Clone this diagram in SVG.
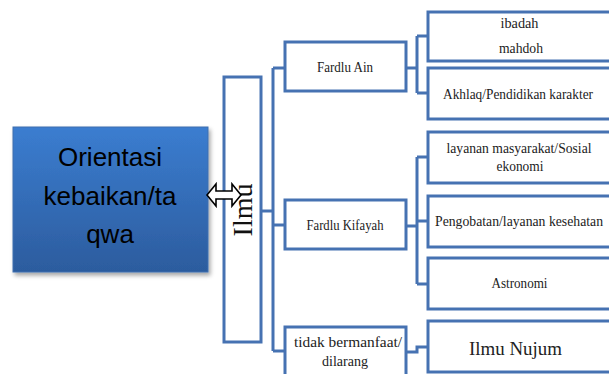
<svg xmlns="http://www.w3.org/2000/svg" width="609" height="374" viewBox="0 0 609 374">
  <defs>
    <linearGradient id="blueGrad" x1="0" y1="0" x2="0" y2="1">
      <stop offset="0" stop-color="#3b7dd0"/>
      <stop offset="1" stop-color="#2c5c9e"/>
    </linearGradient>
    <filter id="shadow" x="-10%" y="-10%" width="125%" height="125%">
      <feDropShadow dx="2" dy="3" stdDeviation="2" flood-color="#000" flood-opacity="0.35"/>
    </filter>
  </defs>
  <style>
    .box { fill: #ffffff; stroke: #4672b2; stroke-width: 3; }
    .conn { fill: none; stroke: #4672b2; stroke-width: 3; }
    .lbl { font-family: "Liberation Serif", "DejaVu Serif", serif; font-size: 14px; fill: #222; text-anchor: middle; }
    .big { font-size: 19px; }
    .main { font-family: "Liberation Sans", Arial, sans-serif; font-size: 26px; fill: #000; text-anchor: middle; }
  </style>
  <rect width="609" height="374" fill="#ffffff"/>

  <g id="connectors">
    <path class="conn" d="M261,211 H273"/>
    <path class="conn" d="M273,68 V351"/>
    <path class="conn" d="M273,68 H285"/>
    <path class="conn" d="M273,225 H285"/>
    <path class="conn" d="M273,351 H285"/>
    <path class="conn" d="M406,68 H417 M417,36 V93 M417,36 H428 M417,93 H428"/>
    <path class="conn" d="M406,226 H417 M417,157 V284 M417,157 H428 M417,221 H428 M417,284 H428"/>
    <path class="conn" d="M406,352 H417 V347 H428"/>
  </g>

  <g id="orientasi">
    <rect x="13" y="127" width="195" height="145" fill="url(#blueGrad)" stroke="#3f6fae" stroke-width="1" filter="url(#shadow)"/>
    <text class="main" x="110" y="166">Orientasi</text>
    <text class="main" x="110" y="205">kebaikan/ta</text>
    <text class="main" x="110" y="243">qwa</text>
  </g>

  <g id="ilmu">
    <rect class="box" x="224" y="77" width="37" height="265"/>
    <text transform="translate(252,210) rotate(-90)" font-family="Liberation Serif, serif" font-size="28" fill="#111" text-anchor="middle">Ilmu</text>
  </g>

  <g id="arrow">
    <polygon points="207,195 216,184 216,191 232,191 232,184 241,195 232,206 232,199 216,199 216,206" fill="#ffffff" stroke="#000" stroke-width="1.6" stroke-linejoin="miter"/>
  </g>

  <g id="fardlu-ain">
    <rect class="box" x="285" y="42" width="121" height="49"/>
    <text class="lbl" x="345" y="72" textLength="56" lengthAdjust="spacingAndGlyphs">Fardlu Ain</text>
  </g>

  <g id="fardlu-kifayah">
    <rect class="box" x="285" y="200" width="121" height="49"/>
    <text class="lbl" x="345" y="230" textLength="77" lengthAdjust="spacingAndGlyphs">Fardlu Kifayah</text>
  </g>

  <g id="tidak-bermanfaat">
    <rect class="box" x="285" y="327" width="121" height="60"/>
    <text class="lbl" x="348" y="347" textLength="108" lengthAdjust="spacingAndGlyphs">tidak bermanfaat/</text>
    <text class="lbl" x="345" y="366" textLength="46" lengthAdjust="spacingAndGlyphs">dilarang</text>
  </g>

  <g id="ibadah-mahdoh">
    <rect class="box" x="428" y="12" width="185" height="49"/>
    <text class="lbl" x="519.5" y="28" textLength="38" lengthAdjust="spacingAndGlyphs">ibadah</text>
    <text class="lbl" x="521" y="53" textLength="44" lengthAdjust="spacingAndGlyphs">mahdoh</text>
  </g>

  <g id="akhlaq">
    <rect class="box" x="428" y="68" width="185" height="51"/>
    <text class="lbl" x="518" y="99" textLength="150" lengthAdjust="spacingAndGlyphs">Akhlaq/Pendidikan karakter</text>
  </g>

  <g id="layanan-masyarakat">
    <rect class="box" x="428" y="132" width="185" height="51"/>
    <text class="lbl" x="519" y="153" textLength="145" lengthAdjust="spacingAndGlyphs">layanan masyarakat/Sosial</text>
    <text class="lbl" x="520" y="171" textLength="47" lengthAdjust="spacingAndGlyphs">ekonomi</text>
  </g>

  <g id="pengobatan">
    <rect class="box" x="428" y="196" width="185" height="51"/>
    <text class="lbl" x="519" y="226" textLength="168" lengthAdjust="spacingAndGlyphs">Pengobatan/layanan kesehatan</text>
  </g>

  <g id="astronomi">
    <rect class="box" x="428" y="258" width="185" height="51"/>
    <text class="lbl" x="519.5" y="288" textLength="56" lengthAdjust="spacingAndGlyphs">Astronomi</text>
  </g>

  <g id="ilmu-nujum">
    <rect class="box" x="428" y="321" width="185" height="51"/>
    <text class="lbl big" x="515.5" y="355" textLength="93" lengthAdjust="spacingAndGlyphs">Ilmu Nujum</text>
  </g>
</svg>
